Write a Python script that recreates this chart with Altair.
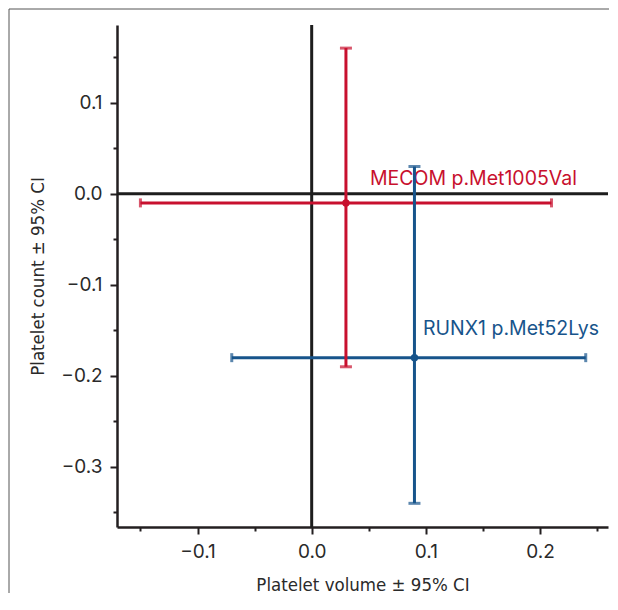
import altair as alt
import pandas as pd

genes = ["MECOM p.Met1005Val", "RUNX1 p.Met52Lys"]
colors = ["#c8102e", "#17548b"]
x_est = [0.03, 0.09]
x_lo = [-0.15, -0.07]
x_hi = [0.21, 0.24]
y_est = [-0.01, -0.18]
y_lo = [-0.19, -0.34]
y_hi = [0.16, 0.03]
label_x = [0.051, 0.0975]
label_y = [0.0096, -0.155]

x_ticks = [-0.15, -0.1, -0.05, 0.0, 0.05, 0.1, 0.15, 0.2, 0.25]
y_ticks = [0.15, 0.1, 0.05, 0.0, -0.05, -0.1, -0.15, -0.2, -0.25, -0.3, -0.35]
x_domain = [-0.1705, 0.2595]
y_domain = [-0.366, 0.1854]

df = pd.DataFrame({
    "gene": genes, "x": x_est, "xlo": x_lo, "xhi": x_hi,
    "y": y_est, "ylo": y_lo, "yhi": y_hi, "lx": label_x, "ly": label_y,
})
hcaps = pd.DataFrame({
    "gene": genes * 2, "x": x_lo + x_hi, "y": y_est * 2,
})
vcaps = pd.DataFrame({
    "gene": genes * 2, "x": x_est * 2, "y": y_lo + y_hi,
})
zero = pd.DataFrame({"z": [0.0]})

major_test = "abs(datum.value*10 - round(datum.value*10)) < 0.001"
label_expr = f"({major_test}) ? format(datum.value, '.1f') : ''"

title_font = "Liberation Sans Narrow, DejaVu Sans Condensed, sans-serif"
label_font = "Inter, Lato, sans-serif"

xscale = alt.Scale(domain=x_domain, nice=False, zero=False)
yscale = alt.Scale(domain=y_domain, nice=False, zero=False)
cscale = alt.Scale(domain=genes, range=colors)

xaxis = alt.Axis(
    title="Platelet volume ± 95% CI", values=x_ticks, labelExpr=label_expr,
    tickSize={"condition": {"test": major_test, "value": 7}, "value": 4},
    grid=False, labelPadding=8, titlePadding=14,
)
yaxis = alt.Axis(
    title="Platelet count ± 95% CI", values=y_ticks, labelExpr=label_expr,
    tickSize={"condition": {"test": major_test, "value": 7}, "value": 4},
    grid=False, labelPadding=8, titlePadding=13,
)

base = alt.Chart(df)

vzero = alt.Chart(zero).mark_rule(color="#1d1d1d", strokeWidth=3).encode(
    x=alt.X("z:Q", scale=xscale, axis=xaxis))
hzero = alt.Chart(zero).mark_rule(color="#1d1d1d", strokeWidth=3).encode(
    y=alt.Y("z:Q", scale=yscale, axis=yaxis))

hbar = base.mark_rule(strokeWidth=3).encode(
    x=alt.X("xlo:Q", scale=xscale, axis=xaxis), x2="xhi:Q",
    y=alt.Y("y:Q", scale=yscale, axis=yaxis),
    color=alt.Color("gene:N", scale=cscale, legend=None))
vbar = base.mark_rule(strokeWidth=3).encode(
    x=alt.X("x:Q", scale=xscale, axis=xaxis),
    y=alt.Y("ylo:Q", scale=yscale, axis=yaxis), y2="yhi:Q",
    color=alt.Color("gene:N", scale=cscale, legend=None))
hcap = alt.Chart(hcaps).mark_tick(orient="vertical", size=9, thickness=3).encode(
    x=alt.X("x:Q", scale=xscale, axis=xaxis),
    y=alt.Y("y:Q", scale=yscale, axis=yaxis),
    color=alt.Color("gene:N", scale=cscale, legend=None))
vcap = alt.Chart(vcaps).mark_tick(orient="horizontal", size=12, thickness=3).encode(
    x=alt.X("x:Q", scale=xscale, axis=xaxis),
    y=alt.Y("y:Q", scale=yscale, axis=yaxis),
    color=alt.Color("gene:N", scale=cscale, legend=None))
pts = base.mark_circle(size=55, opacity=1).encode(
    x=alt.X("x:Q", scale=xscale, axis=xaxis),
    y=alt.Y("y:Q", scale=yscale, axis=yaxis),
    color=alt.Color("gene:N", scale=cscale, legend=None))
labels = base.mark_text(align="left", baseline="alphabetic", font=label_font, fontSize=19.5).encode(
    x=alt.X("lx:Q", scale=xscale, axis=xaxis),
    y=alt.Y("ly:Q", scale=yscale, axis=yaxis),
    text="gene:N",
    color=alt.Color("gene:N", scale=cscale, legend=None))

frame_left = alt.Chart(zero).mark_rule(color="#555555", strokeWidth=1).encode(
    x=alt.value(-108), y=alt.value(-16), y2=alt.value(568))
frame_top = alt.Chart(zero).mark_rule(color="#555555", strokeWidth=1).encode(
    x=alt.value(-108), x2=alt.value(492), y=alt.value(-16))

chart = alt.layer(
    frame_left, frame_top, vzero, hzero, labels, hbar, vbar, hcap, vcap, pts
).properties(
    width=491, height=502,
    autosize=alt.AutoSizeParams(type="none"),
    padding={"left": 109, "top": 17, "right": 2, "bottom": 66},
).configure_view(strokeWidth=0).configure_axis(
    domainColor="#231f20", domainWidth=2.5, tickColor="#231f20", tickWidth=2,
    labelFont=label_font, labelFontSize=19, labelColor="#2a2a2a",
    titleFont=title_font, titleFontSize=18.5, titleFontWeight="normal", titleColor="#2a2a2a",
)

chart.save("out.html", embed_options={"renderer": "svg", "actions": False})
